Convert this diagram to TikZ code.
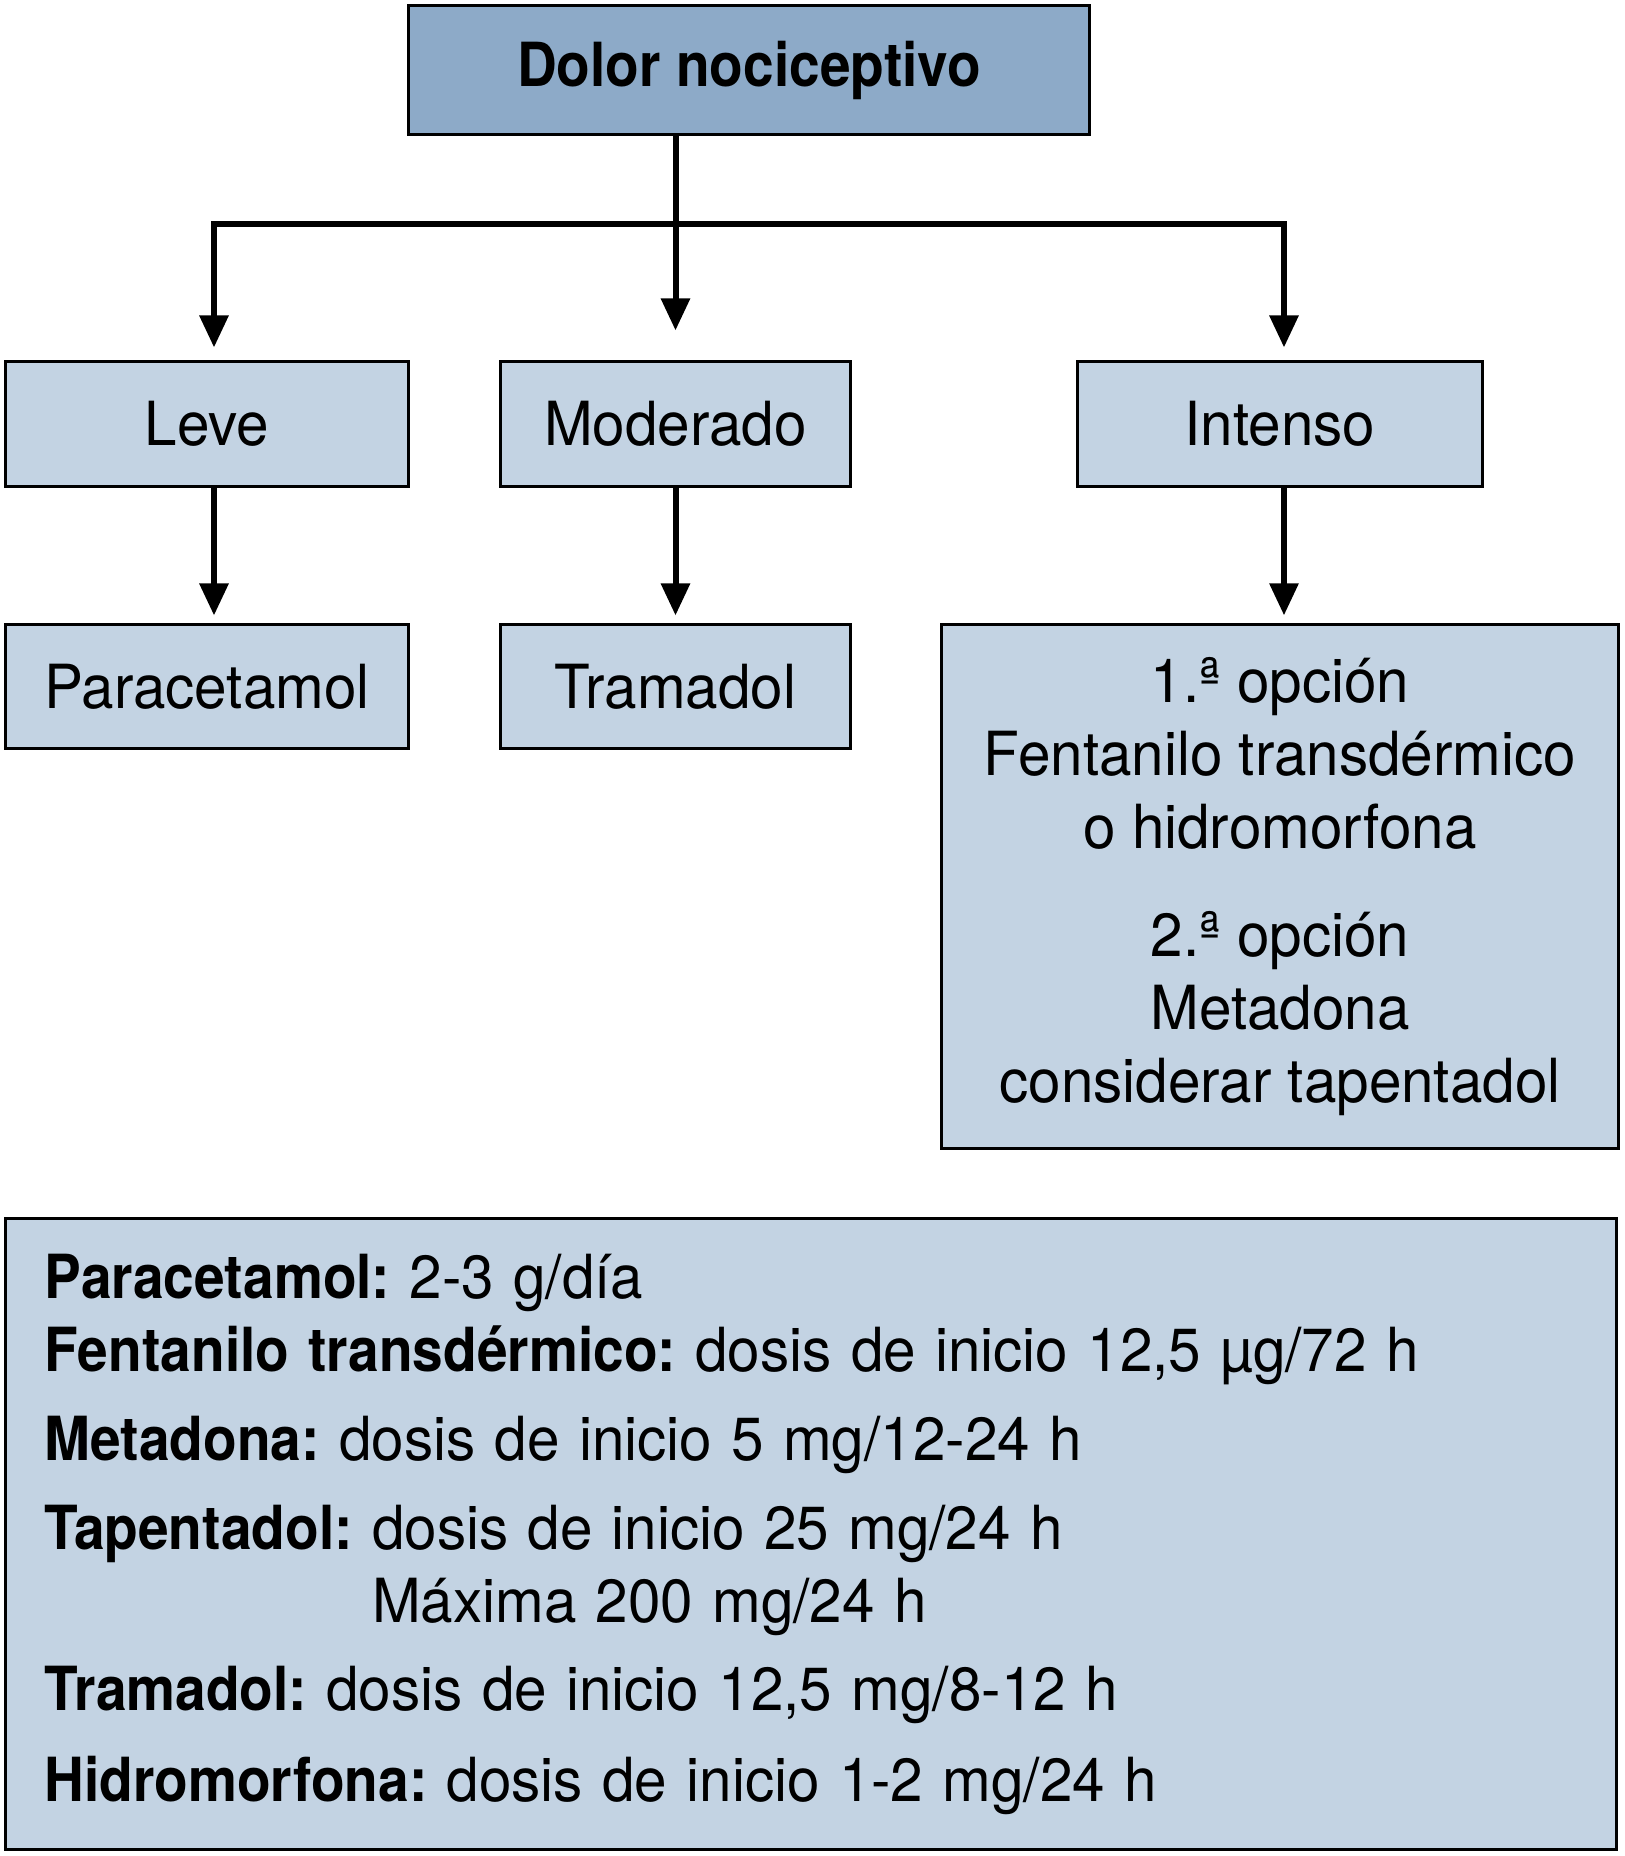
\documentclass[tikz,border=0pt]{standalone}
\usepackage{fontspec}
\setmainfont{TeX Gyre Heros}[FakeStretch=0.96,BoldFeatures={FakeStretch=0.905}]
\usetikzlibrary{arrows.meta}
\definecolor{hdblue}{RGB}{141,170,200}
\definecolor{boxblue}{RGB}{195,211,227}

\begin{document}
\begin{tikzpicture}[x=0.01cm,y=-0.01cm,
    every node/.style={draw=black,line width=0.03cm,inner sep=0pt,
                       font=\fontsize{17.3}{20.8}\selectfont},
    head/.style={fill=hdblue,font=\fontsize{17.3}{20.8}\selectfont\bfseries},
    box/.style={fill=boxblue},
    arr/.style={line width=0.06cm,-{Triangle[width=0.28cm,length=0.32cm]}}]
  % severity of nociceptive pain -> first drug, doses listed below
  \useasboundingbox (0,0) rectangle (1625,1856);
  \node[head,minimum width=6.8cm,minimum height=1.28cm] (dolor) at (749,70) {Dolor nociceptivo};
  \node[box,minimum width=4.02cm,minimum height=1.24cm] (leve) at (207,424) {Leve};
  \node[box,minimum width=3.49cm,minimum height=1.24cm] (mod)  at (675.5,424) {Moderado};
  \node[box,minimum width=4.04cm,minimum height=1.24cm] (int)  at (1280,424) {Intenso};
  \node[box,minimum width=4.02cm,minimum height=1.23cm] (para) at (207,686.5) {Paracetamol};
  \node[box,minimum width=3.49cm,minimum height=1.23cm] (tram) at (675.5,686.5) {Tramadol};
  \node[box,minimum width=6.76cm,minimum height=5.23cm,align=center] (opc) at (1280,886.5)
    {1.ª opción\\Fentanilo transdérmico\\o hidromorfona\\[0.34cm]2.ª opción\\Metadona\\considerar tapentadol};
  \node[box,minimum width=16.1cm,minimum height=6.3cm,text width=15.32cm,align=left] (dosis) at (811,1534)
    {\spaceskip=5.5pt plus 1pt\xspaceskip=5.5pt plus 1pt\relax
     \textbf{Paracetamol:} 2-3 g/día\\
     \textbf{Fentanilo transdérmico:} dosis de inicio 12,5 µg/72 h\\[0.16cm]
     \textbf{Metadona:} dosis de inicio 5 mg/12-24 h\\[0.16cm]
     \textbf{Tapentadol:} dosis de inicio 25 mg/24 h\\
     \phantom{\textbf{Tapentadol:} }Máxima 200 mg/24 h\\[0.15cm]
     \textbf{Tramadol:} dosis de inicio 12,5 mg/8-12 h\\[0.17cm]
     \textbf{Hidromorfona:} dosis de inicio 1-2 mg/24 h};
  \coordinate (bus) at (675.5,224);
  \draw[arr,shorten >=0.3cm] (dolor.south -| mod) -- (mod);
  \draw[arr,shorten >=0.13cm] (bus) -| ([xshift=0.07cm]leve.north);
  \draw[arr,shorten >=0.13cm] (bus) -| ([xshift=0.04cm]int.north);
  \draw[arr,shorten >=0.08cm] ([xshift=0.07cm]leve.south) -- ([xshift=0.07cm]para.north);
  \draw[arr,shorten >=0.08cm] (mod) -- (tram);
  \draw[arr,shorten >=0.08cm] ([xshift=0.04cm]int.south) -- ([xshift=0.04cm]opc.north);
\end{tikzpicture}
\end{document}
